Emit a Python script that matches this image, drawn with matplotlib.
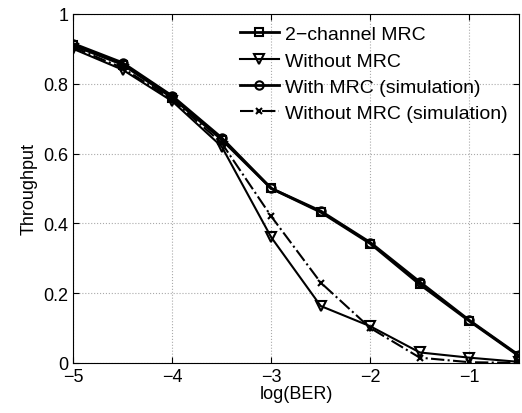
import matplotlib
matplotlib.use('Agg')
import matplotlib.pyplot as plt

# log(BER) values
log_ber = [-5, -4.5, -4, -3.5, -3, -2.5, -2, -1.5, -1, -0.5]

# throughput curves
mrc = [0.91, 0.855, 0.76, 0.64, 0.50, 0.432, 0.342, 0.225, 0.12, 0.02]
no_mrc = [0.90, 0.84, 0.75, 0.62, 0.36, 0.163, 0.105, 0.03, 0.015, 0.003]
mrc_sim = [0.915, 0.86, 0.765, 0.645, 0.50, 0.435, 0.345, 0.232, 0.122, 0.022]
no_mrc_sim = [0.905, 0.845, 0.755, 0.63, 0.42, 0.23, 0.10, 0.015, 0.002, 0.0]

labels = ['2\u2212channel MRC', 'Without MRC', 'With MRC (simulation)',
          'Without MRC (simulation)']

plt.rcParams['font.family'] = ['Liberation Sans', 'DejaVu Sans']

fig = plt.figure(figsize=(5.22, 4.14), dpi=100)
ax = fig.add_axes([0.14, 0.121, 0.854, 0.843])

ax.plot(log_ber, mrc, '-s', color='k', lw=2, ms=6, mfc='none', mew=1.5, label=labels[0])
ax.plot(log_ber, no_mrc, '-v', color='k', lw=1.5, ms=7, mfc='none', mew=1.5, label=labels[1])
ax.plot(log_ber, mrc_sim, '-o', color='k', lw=2, ms=6, mfc='none', mew=1.5, label=labels[2])
ax.plot(log_ber, no_mrc_sim, '-.x', color='k', lw=1.5, ms=5, mew=1.5, label=labels[3])

ax.set_xlim(-5, -0.5)
ax.set_ylim(0, 1)
ax.set_xticks([-5, -4, -3, -2, -1])
ax.set_xticklabels(['\u22125', '\u22124', '\u22123', '\u22122', '\u22121'])
ax.set_yticks([0, 0.2, 0.4, 0.6, 0.8, 1])
ax.set_yticklabels(['0', '0.2', '0.4', '0.6', '0.8', '1'])
ax.tick_params(direction='in', labelsize=13, length=4, top=True, right=True)
ax.tick_params(axis='x', pad=4)
ax.grid(True, linestyle=':', color='#aaaaaa', lw=0.8)
ax.set_xlabel('log(BER)', fontsize=13, labelpad=0)
ax.set_ylabel('Throughput', fontsize=13, labelpad=4)

ax.legend(loc='upper right', frameon=False, fontsize=14, handlelength=2.0,
          handletextpad=0.3, labelspacing=0.45, borderaxespad=0.2)

fig.savefig('out.png', dpi=100)
